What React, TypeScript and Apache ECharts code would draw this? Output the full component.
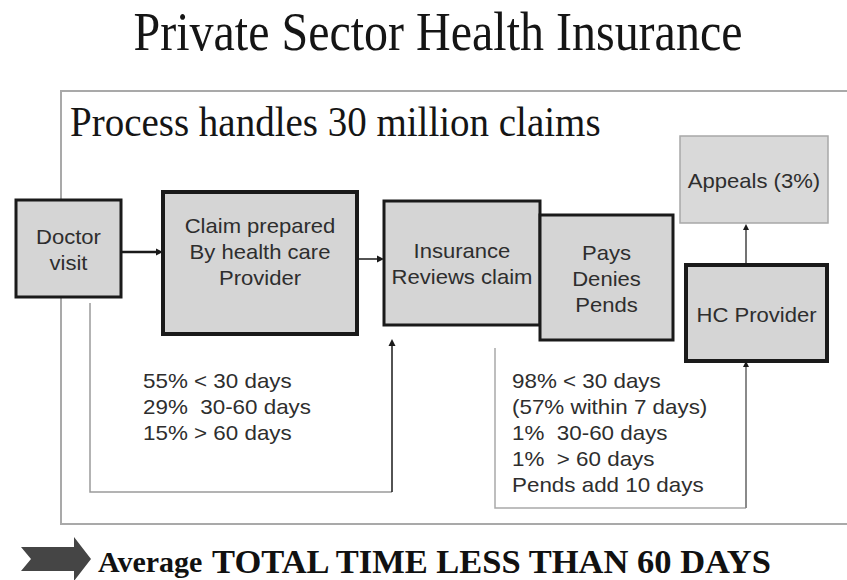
import React, { useEffect, useRef } from "react";
import * as echarts from "echarts";

// ---- content ----
const TITLE = "Private Sector Health Insurance";
const SUBTITLE = "Process handles 30 million claims";
const DOCTOR_LINES = ["Doctor", "visit"];
const CLAIM_LINES = ["Claim prepared", "By health care", "Provider"];
const INSURANCE_LINES = ["Insurance", "Reviews claim"];
const OUTCOME_LINES = ["Pays", "Denies", "Pends"];
const APPEALS_LINES = ["Appeals (3%)"];
const HC_LINES = ["HC Provider"];
const PREP_STATS = ["55% < 30 days", "29%  30-60 days", "15% > 60 days"];
const REVIEW_STATS = [
  "98% < 30 days",
  "(57% within 7 days)",
  "1%  30-60 days",
  "1%  > 60 days",
  "Pends add 10 days",
];
const FOOTER_SMALL = "Average";
const FOOTER_BIG = "TOTAL TIME LESS THAN 60 DAYS";

// ---- layout / style ----
const SERIF = '"Liberation Serif", "Times New Roman", serif';
const SANS = '"Liberation Sans", Arial, sans-serif';
const BOX_FILL = "#d5d5d5";
const DARK = "#1a1a1a";
const TEXT_GRAY = "#2e2e2e";

type Box = { lines: string[]; x: number; y: number; w: number; h: number; lw: number; cy: number; stroke?: string; fill?: string };

const BOXES: Box[] = [
  { lines: DOCTOR_LINES, x: 16, y: 200, w: 105, h: 97, lw: 3, cy: 250 },
  { lines: CLAIM_LINES, x: 163, y: 192, w: 194, h: 142, lw: 4, cy: 252 },
  { lines: APPEALS_LINES, x: 680, y: 136, w: 148, h: 87, lw: 1.5, cy: 181, stroke: "#a8a8a8", fill: "#d9d9d9" },
  { lines: HC_LINES, x: 686, y: 265, w: 141, h: 96, lw: 4, cy: 315 },
  { lines: INSURANCE_LINES, x: 384, y: 201, w: 156, h: 124, lw: 3, cy: 264.5 },
  { lines: OUTCOME_LINES, x: 540, y: 215, w: 133, h: 125, lw: 3, cy: 279 },
];

function text(x: number, y: number, t: string, font: string, o: any = {}) {
  return {
    type: "text",
    x,
    y,
    scaleX: o.sx ?? 1,
    scaleY: o.sy ?? 1,
    z: 20,
    style: { text: t, x: 0, y: 0, font, fill: o.fill ?? "#111", align: o.align ?? "left", verticalAlign: "middle" },
  };
}

function line(points: number[][], color: string, lw: number) {
  return { type: "polyline", z: 5, shape: { points }, style: { stroke: color, lineWidth: lw, fill: null } };
}

function head(tx: number, ty: number, dir: "right" | "up", color = DARK, len = 7, half = 3.5) {
  const pts =
    dir === "right"
      ? [[tx, ty], [tx - len, ty - half], [tx - len, ty + half]]
      : [[tx, ty], [tx - half, ty + len], [tx + half, ty + len]];
  return { type: "polygon", z: 6, shape: { points: pts }, style: { fill: color } };
}

function buildElements() {
  const els: any[] = [];
  // titles
  els.push(text(438, 31, TITLE, `normal 48px ${SERIF}`, { align: "center", sy: 1.15, fill: "#151515" }));
  els.push(text(70, 122, SUBTITLE, `normal 39px ${SERIF}`, { sy: 1.06, fill: "#151515" }));

  // outer frame
  els.push({ type: "rect", z: 1, shape: { x: 61, y: 91, width: 790, height: 433 }, style: { stroke: "#a9a9a9", lineWidth: 2, fill: null } });

  // connectors
  els.push(line([[121, 252], [156, 252]], DARK, 2.5));
  els.push(head(163, 252, "right"));
  els.push(line([[357, 259], [378, 259]], DARK, 1.5));
  els.push(head(384, 259, "right"));
  els.push(line([[90, 303], [90, 492], [392, 492]], "#9a9a9a", 1.5));
  els.push(line([[392, 492], [392, 345]], DARK, 1.5));
  els.push(head(392, 339, "up"));
  els.push(line([[495, 348], [495, 508], [746, 508]], "#a9a9a9", 1.5));
  els.push(line([[746, 508], [746, 366]], "#8a8a8a", 2));
  els.push(head(746, 361, "up", DARK, 6, 3));
  els.push(line([[746, 265], [746, 230]], "#444", 1.5));
  els.push(head(746, 224, "up", DARK, 6, 3));

  // boxes
  BOXES.forEach((b) => {
    els.push({
      type: "rect",
      z: 10,
      shape: { x: b.x, y: b.y, width: b.w, height: b.h },
      style: { fill: b.fill ?? BOX_FILL, stroke: b.stroke ?? DARK, lineWidth: b.lw },
    });
    const lh = 26;
    const start = b.cy - ((b.lines.length - 1) * lh) / 2;
    b.lines.forEach((l, i) => {
      els.push(text(b.x + b.w / 2, start + i * lh, l, `normal 21px ${SANS}`, { align: "center", fill: TEXT_GRAY, sx: 1.05 }));
    });
  });

  // stats
  PREP_STATS.forEach((l, i) => els.push(text(143, 381 + i * 26, l, `normal 20px ${SANS}`, { fill: TEXT_GRAY, sx: 1.12 })));
  REVIEW_STATS.forEach((l, i) => els.push(text(512, 381 + i * 26, l, `normal 20px ${SANS}`, { fill: TEXT_GRAY, sx: 1.12 })));

  // footer arrow
  els.push({
    type: "polygon",
    z: 5,
    shape: { points: [[21, 547], [74, 547], [74, 537], [91, 559], [74, 581], [74, 571], [21, 571], [31, 559]] },
    style: { fill: "#454545" },
  });
  els.push(text(98, 561, FOOTER_SMALL, `bold 30px ${SERIF}`, { fill: "#111" }));
  els.push(text(212, 561, FOOTER_BIG, `bold 34.5px ${SERIF}`, { fill: "#111" }));
  return els;
}

export default function App() {
  const ref = useRef<HTMLDivElement>(null);
  useEffect(() => {
    if (!ref.current) return;
    const chart = echarts.init(ref.current, null, { renderer: "svg" });
    chart.setOption({
      animation: false,
      backgroundColor: "#ffffff",
      graphic: { elements: buildElements() },
    });
    return () => chart.dispose();
  }, []);
  return <div ref={ref} style={{ position: "fixed", left: 0, top: 0, width: 847, height: 580 }} />;
}
